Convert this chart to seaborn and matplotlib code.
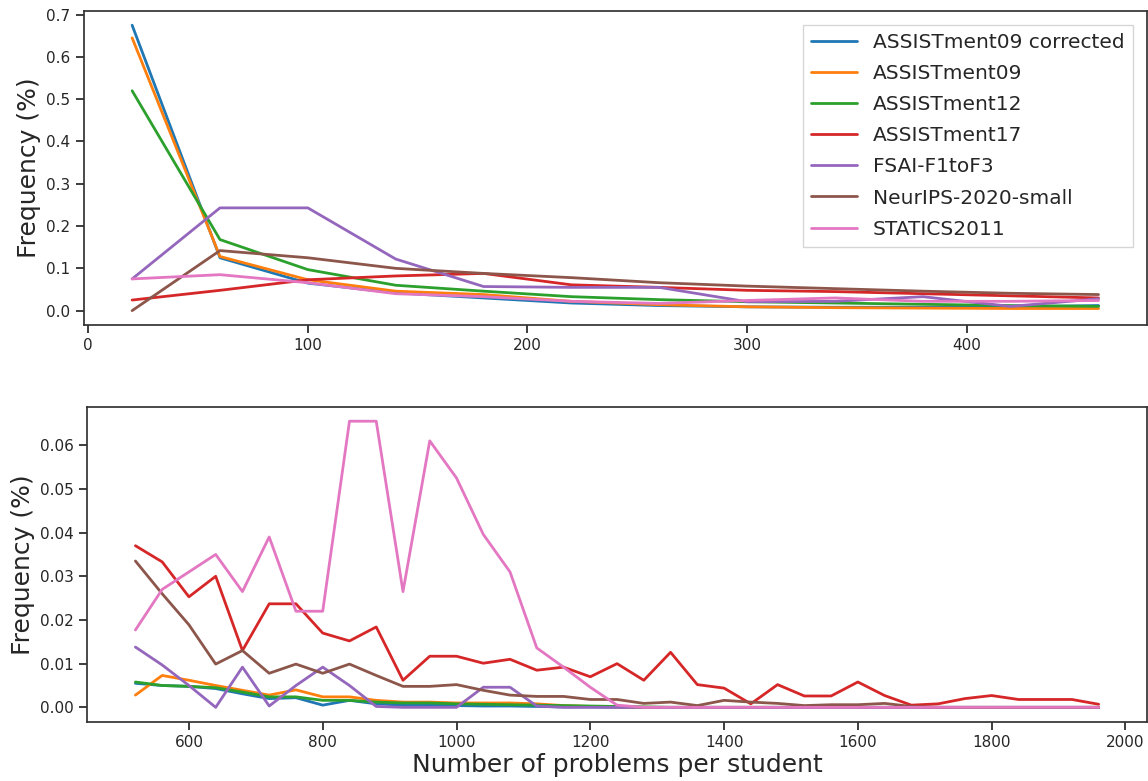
import pandas as pd
import seaborn as sns
import matplotlib.pyplot as plt

# dataset names (legend order)
datasets = ['ASSISTment09 corrected', 'ASSISTment09', 'ASSISTment12', 'ASSISTment17',
            'FSAI-F1toF3', 'NeurIPS-2020-small', 'STATICS2011']

# top panel: bin centres 20..460
x_top = [20, 60, 100, 140, 180, 220, 260, 300, 340, 380, 420, 460]
top_a09c = [0.675, 0.125, 0.065, 0.042, 0.030, 0.018, 0.012, 0.009, 0.008, 0.008, 0.009, 0.012]
top_a09 = [0.645, 0.128, 0.073, 0.046, 0.038, 0.022, 0.014, 0.009, 0.007, 0.006, 0.005, 0.005]
top_a12 = [0.520, 0.168, 0.097, 0.060, 0.046, 0.033, 0.026, 0.021, 0.018, 0.015, 0.012, 0.010]
top_a17 = [0.025, 0.048, 0.073, 0.082, 0.088, 0.061, 0.055, 0.048, 0.045, 0.040, 0.035, 0.030]
top_fsai = [0.075, 0.243, 0.243, 0.122, 0.057, 0.055, 0.055, 0.021, 0.022, 0.033, 0.010, 0.028]
top_neur = [0.000, 0.142, 0.125, 0.100, 0.088, 0.078, 0.066, 0.058, 0.052, 0.046, 0.041, 0.038]
top_stat = [0.075, 0.085, 0.066, 0.040, 0.033, 0.022, 0.017, 0.024, 0.030, 0.022, 0.022, 0.024]

# bottom panel: bin centres 520..1960
x_bot = list(range(520, 2000, 40))
bot_a09c = [0.0055, 0.0050, 0.0048, 0.0043, 0.0031, 0.0020, 0.0022, 0.0005, 0.0016, 0.0008,
            0.0005, 0.0005, 0.0004, 0.0003, 0.0003, 0.0002, 0.0001, 0.0001, 0.0, 0.0,
            0.0, 0.0, 0.0, 0.0, 0.0, 0.0, 0.0, 0.0, 0.0, 0.0,
            0.0, 0.0, 0.0, 0.0, 0.0, 0.0, 0.0]
bot_a09 = [0.0028, 0.0073, 0.0062, 0.0050, 0.0039, 0.0028, 0.0040, 0.0024, 0.0024, 0.0016,
           0.0012, 0.0012, 0.0010, 0.0010, 0.0010, 0.0008, 0.0004, 0.0002, 0.0001, 0.0,
           0.0, 0.0, 0.0, 0.0, 0.0, 0.0, 0.0, 0.0, 0.0, 0.0,
           0.0, 0.0, 0.0, 0.0, 0.0, 0.0, 0.0]
bot_a12 = [0.0058, 0.0050, 0.0048, 0.0045, 0.0035, 0.0024, 0.0024, 0.0016, 0.0016, 0.0012,
           0.0010, 0.0010, 0.0008, 0.0007, 0.0006, 0.0005, 0.0004, 0.0003, 0.0002, 0.0001,
           0.0, 0.0, 0.0, 0.0, 0.0, 0.0, 0.0, 0.0, 0.0, 0.0,
           0.0, 0.0, 0.0, 0.0, 0.0, 0.0, 0.0]
bot_a17 = [0.0370, 0.0333, 0.0253, 0.0300, 0.0130, 0.0237, 0.0237, 0.0170, 0.0152, 0.0184,
           0.0062, 0.0117, 0.0117, 0.0101, 0.0110, 0.0085, 0.0092, 0.0070, 0.0100, 0.0062,
           0.0126, 0.0052, 0.0044, 0.0008, 0.0052, 0.0026, 0.0026, 0.0058, 0.0027, 0.0005,
           0.0008, 0.0020, 0.0027, 0.0018, 0.0018, 0.0018, 0.0007]
bot_fsai = [0.0138, 0.0097, 0.0050, 0.0000, 0.0092, 0.0003, 0.0050, 0.0092, 0.0050, 0.0002,
            0.0, 0.0, 0.0, 0.0046, 0.0046, 0.0003, 0.0, 0.0, 0.0, 0.0,
            0.0, 0.0, 0.0, 0.0, 0.0, 0.0, 0.0, 0.0, 0.0, 0.0,
            0.0, 0.0, 0.0, 0.0, 0.0, 0.0, 0.0]
bot_neur = [0.0335, 0.0260, 0.0189, 0.0099, 0.0130, 0.0078, 0.0099, 0.0078, 0.0099, 0.0073,
            0.0048, 0.0048, 0.0052, 0.0039, 0.0028, 0.0025, 0.0025, 0.0018, 0.0018, 0.0009,
            0.0012, 0.0004, 0.0016, 0.0012, 0.0009, 0.0004, 0.0006, 0.0006, 0.0009, 0.0002,
            0.0, 0.0, 0.0, 0.0, 0.0, 0.0, 0.0]
bot_stat = [0.0177, 0.0270, 0.0310, 0.0350, 0.0265, 0.0390, 0.0220, 0.0220, 0.0655, 0.0655,
            0.0265, 0.0610, 0.0525, 0.0396, 0.0310, 0.0136, 0.0092, 0.0046, 0.0005, 0.0,
            0.0, 0.0, 0.0, 0.0, 0.0, 0.0, 0.0, 0.0, 0.0, 0.0,
            0.0, 0.0, 0.0, 0.0, 0.0, 0.0, 0.0]

top_vals = [top_a09c, top_a09, top_a12, top_a17, top_fsai, top_neur, top_stat]
bot_vals = [bot_a09c, bot_a09, bot_a12, bot_a17, bot_fsai, bot_neur, bot_stat]


def long_df(xs, vals):
    frames = []
    for name, v in zip(datasets, vals):
        frames.append(pd.DataFrame({'x': xs, 'freq': v, 'dataset': name}))
    return pd.concat(frames, ignore_index=True)


df_top = long_df(x_top, top_vals)
df_bot = long_df(x_bot, bot_vals)

sns.set_theme(style="ticks")
plt.rcParams['font.family'] = ['DejaVu Sans']

fig = plt.figure(figsize=(11.48, 7.81), dpi=100)
ax1 = fig.add_axes([0.073, 0.584, 0.926, 0.402])
ax2 = fig.add_axes([0.076, 0.076, 0.923, 0.403])

palette = sns.color_palette("tab10", 7)

#Top panel
sns.lineplot(data=df_top, x='x', y='freq', hue='dataset', hue_order=datasets,
             palette=palette, linewidth=2, ax=ax1)
ax1.set_xlabel('')
ax1.set_ylabel('Frequency (%)', fontsize=18)
ax1.tick_params(labelsize=11)
ax1.legend(loc='upper right', fontsize=14.5, frameon=True, handlelength=2.3,
           labelspacing=0.6, fancybox=False, borderaxespad=0.7)

#Bottom panel
sns.lineplot(data=df_bot, x='x', y='freq', hue='dataset', hue_order=datasets,
             palette=palette, linewidth=2, ax=ax2, legend=False)
ax2.set_xlabel('Number of problems per student', fontsize=18, labelpad=2)
ax2.set_ylabel('Frequency (%)', fontsize=18)
ax2.tick_params(labelsize=11)

for ax in (ax1, ax2):
    for s in ax.spines.values():
        s.set_color('#333333')

fig.savefig('out.png', dpi=100)
